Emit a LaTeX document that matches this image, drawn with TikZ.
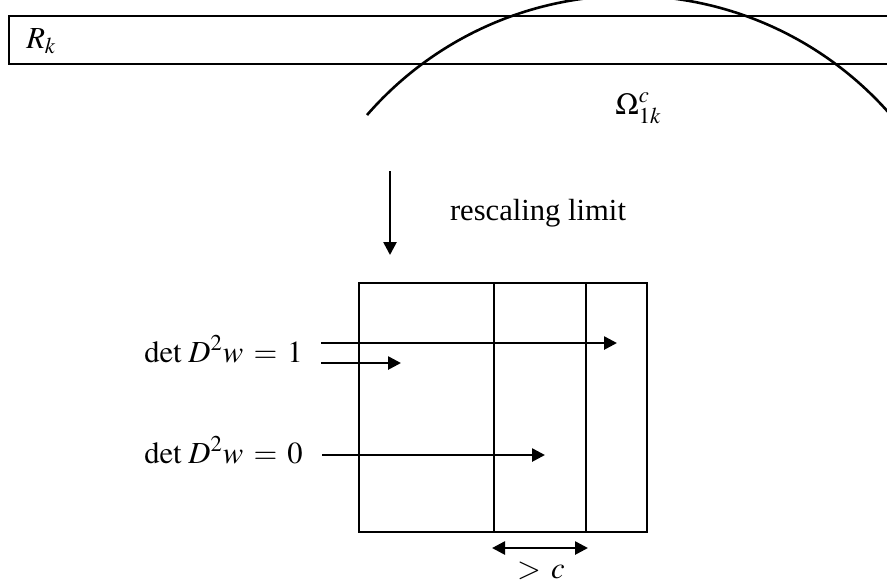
\documentclass[tikz,border=0pt]{standalone}
\usepackage{mathptmx}
\usepackage{fontspec}
\setmainfont{Liberation Serif}
\usetikzlibrary{arrows.meta}

\begin{document}
\begin{tikzpicture}[x=0.5pt, y=-0.5pt, line width=1.3pt,
    font=\fontsize{15.3}{18}\selectfont,
    tip/.style={-{Triangle[length=6.5pt,width=6.5pt]}},
    twotip/.style={{Triangle[length=6.5pt,width=6.5pt]}-{Triangle[length=6.5pt,width=6.5pt]}}]
    \clip (0,0) rectangle (887,586);
    % strip R_k and the curved boundary
    \draw (895,16) -- (9,16) -- (9,64) -- (895,64);
    \node[anchor=base west, inner sep=0] (rk) at (25,48) {$R_k$};
    \draw (367,115) arc[start angle=221, end angle=326, radius=347];
    \node[anchor=base west, inner sep=0] (om) at (614,114) {$\Omega^c_{1k}$};
    % rescaling
    \coordinate (dtop) at (390,171);
    \coordinate (dbot) at (390,255);
    \draw[tip] (dtop) -- (dbot);
    \node[anchor=base, inner sep=0] (resc) at (538,220) {rescaling limit};
    % limit picture
    \draw (359,283) rectangle (647,532);
    \draw (494,283) -- (494,532);
    \draw (586,283) -- (586,532);
    \node[anchor=base west, inner sep=0] (d1) at (143,362) {$\det\,D^2w \,=\, 1$};
    \node[anchor=base west, inner sep=0] (d0) at (143,463) {$\det\,D^2w \,=\, 0$};
    \coordinate (a1) at (321,343);
    \coordinate (b1) at (617,343);
    \coordinate (a2) at (321,363);
    \coordinate (b2) at (401,363);
    \coordinate (a3) at (322,455);
    \coordinate (b3) at (545,455);
    \draw[tip] (a1) -- (b1);
    \draw[tip] (a2) -- (b2);
    \draw[tip] (a3) -- (b3);
    % width
    \coordinate (wl) at (492,548);
    \coordinate (wr) at (588,548);
    \draw[twotip] (wl) -- (wr);
    \node[anchor=base, inner sep=0] (gc) at (541,578) {$>\,c$};
\end{tikzpicture}
\end{document}
